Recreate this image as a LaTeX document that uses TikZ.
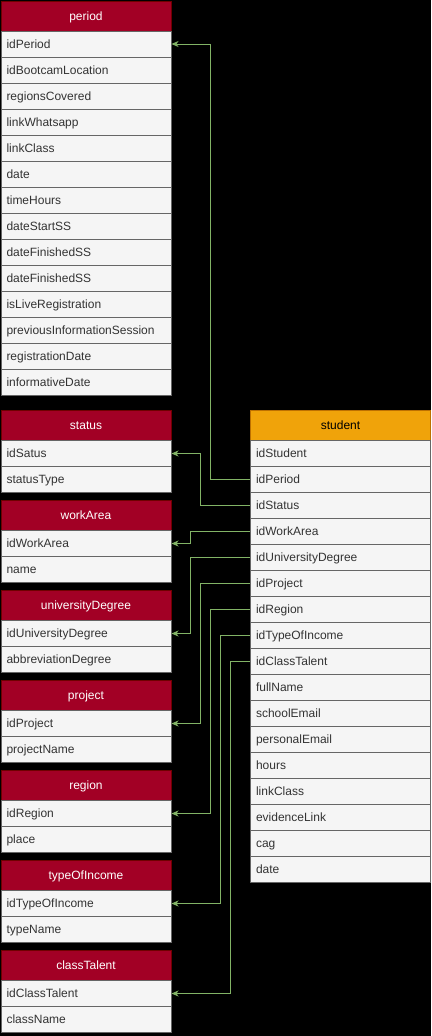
\documentclass[tikz,border=0pt]{standalone}
\usepackage{fontspec}
\setmainfont{Liberation Sans}
\usetikzlibrary{arrows.meta}
\definecolor{hdrred}{HTML}{A20025}
\definecolor{hdrredline}{HTML}{6F0000}
\definecolor{hdrorange}{HTML}{F0A30A}
\definecolor{hdrorangeline}{HTML}{BD7000}
\definecolor{rowfill}{HTML}{F5F5F5}
\definecolor{rowline}{HTML}{666666}
\definecolor{rowtext}{HTML}{333333}
\definecolor{linkgreen}{HTML}{82B366}
\tikzset{
  base/.style={line width=1pt, inner ysep=0pt, font=\fontsize{12}{14}\selectfont, text height=10.4pt, text depth=2pt},
  rowbox/.style={base, draw=rowline, fill=rowfill, text=rowtext, minimum height=26pt, inner xsep=5.5pt, align=left},
  redhead/.style={base, draw=hdrredline, fill=hdrred, text=white, minimum height=30pt, inner xsep=0pt},
  orangehead/.style={base, draw=hdrorangeline, fill=hdrorange, text=black, minimum height=30pt, inner xsep=0pt},
  conn/.style={draw=linkgreen, line width=1pt, -{Stealth[length=7pt,width=6pt,inset=2pt]}},
}
\newcommand\entity[6]{%
  \node[#5, minimum width=#4pt, anchor=north west] (#1-h) at (#2,#3) {#1};
  \foreach \r [count=\i] in {#6} {
    \node[rowbox, text width=#4pt-11pt, anchor=north west] (#1-\r) at (#2,#3+30+26*\i-26) {\r};
  }
}
\begin{document}
\begin{tikzpicture}[x=1pt,y=-1pt]
\useasboundingbox (0,0) rectangle (431,1036);
\fill[black] (0,0) rectangle (431,1036);
\entity{period}{0.5}{0.5}{170}{redhead}{idPeriod,idBootcamLocation,regionsCovered,linkWhatsapp,linkClass,date,timeHours,dateStartSS,dateFinishedSS,dateFinishedSS,isLiveRegistration,previousInformationSession,registrationDate,informativeDate}
\entity{status}{0.5}{410}{170}{redhead}{idSatus,statusType}
\entity{workArea}{0.5}{500}{170}{redhead}{idWorkArea,name}
\entity{universityDegree}{0.5}{590}{170}{redhead}{idUniversityDegree,abbreviationDegree}
\entity{project}{0.5}{680}{170}{redhead}{idProject,projectName}
\entity{region}{0.5}{770}{170}{redhead}{idRegion,place}
\entity{typeOfIncome}{0.5}{860}{170}{redhead}{idTypeOfIncome,typeName}
\entity{classTalent}{0.5}{950}{170}{redhead}{idClassTalent,className}
\entity{student}{250}{410}{180}{orangehead}{idStudent,idPeriod,idStatus,idWorkArea,idUniversityDegree,idProject,idRegion,idTypeOfIncome,idClassTalent,fullName,schoolEmail,personalEmail,hours,linkClass,evidenceLink,cag,date}
\draw[conn] (student-idPeriod.west) -- ++(-40,0) |- (period-idPeriod.east);
\draw[conn] (student-idStatus.west) -- ++(-50,0) |- (status-idSatus.east);
\draw[conn] (student-idWorkArea.west) -- ++(-60,0) |- (workArea-idWorkArea.east);
\draw[conn] (student-idUniversityDegree.west) -- ++(-60,0) |- (universityDegree-idUniversityDegree.east);
\draw[conn] (student-idProject.west) -- ++(-50,0) |- (project-idProject.east);
\draw[conn] (student-idRegion.west) -- ++(-40,0) |- (region-idRegion.east);
\draw[conn] (student-idTypeOfIncome.west) -- ++(-30,0) |- (typeOfIncome-idTypeOfIncome.east);
\draw[conn] (student-idClassTalent.west) -- ++(-20,0) |- (classTalent-idClassTalent.east);
\end{tikzpicture}
\end{document}
